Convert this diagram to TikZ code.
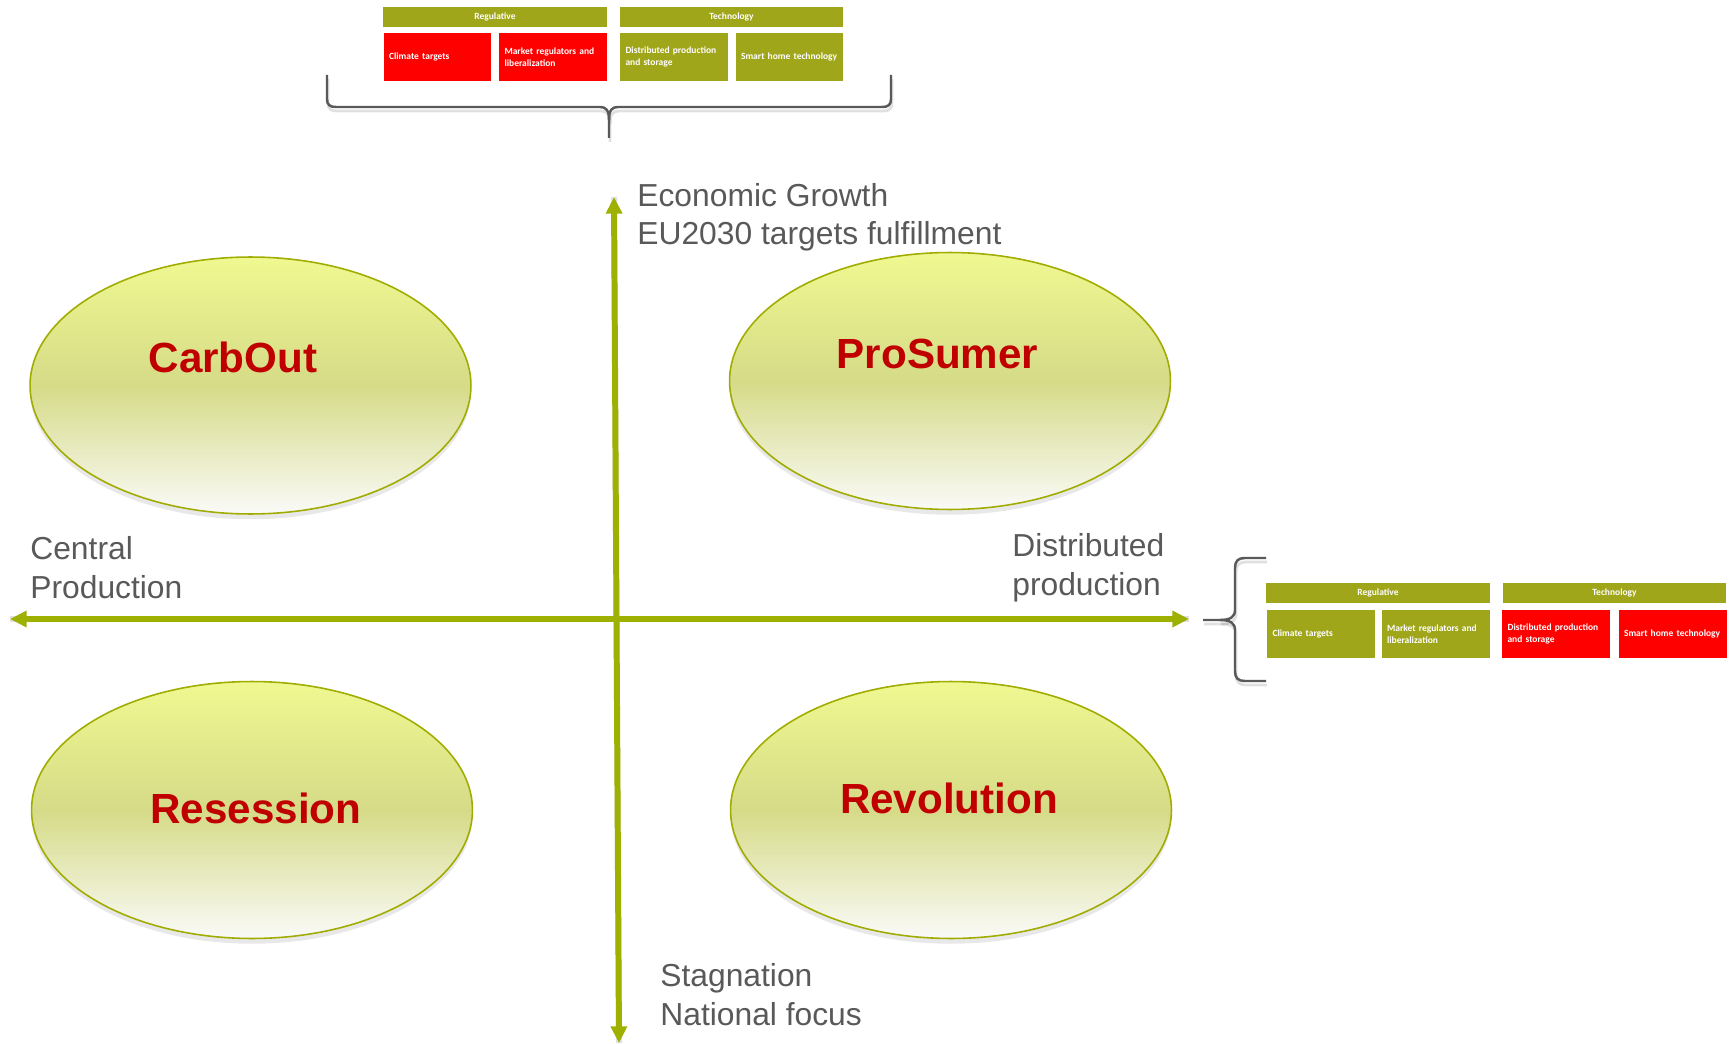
\documentclass[tikz,border=0pt]{standalone}
\usepackage{fontspec}
\setmainfont{Liberation Sans}
\newfontfamily\boxfont{Carlito}
\usetikzlibrary{arrows.meta,shapes.geometric,shadows}

\definecolor{axisgreen}{RGB}{158,176,0}
\definecolor{boxolive}{RGB}{160,166,26}
\definecolor{boxred}{RGB}{255,0,0}
\definecolor{labelgray}{RGB}{89,89,89}
\definecolor{scenred}{RGB}{192,0,0}
\definecolor{ellborder}{RGB}{160,172,0}
\definecolor{elltop}{RGB}{240,248,145}
\definecolor{ellmid}{RGB}{213,219,135}
\definecolor{ellbot}{RGB}{250,250,248}

\newcommand{\pxsc}[0]{0.02cm}

\tikzset{
  axis/.style={line width=3.4pt, color=axisgreen,
    {Triangle[length=9.5pt,width=9pt]}-{Triangle[length=9.5pt,width=9pt]}},
  axisshadow/.style={line width=3.4pt, color=black, opacity=0.12},
  scenario/.style={ellipse, draw=ellborder, line width=0.9pt,
    minimum width=8.82cm, minimum height=5.14cm,
    top color=elltop, bottom color=ellbot, middle color=ellmid,
    drop shadow={shadow xshift=0pt, shadow yshift=-3pt, opacity=0.18}},
  scenlabel/.style={text=scenred, inner sep=0pt,
    font=\fontsize{24}{29}\selectfont\bfseries},
  axislabel/.style={text=labelgray, align=left, anchor=base west, inner sep=0pt,
    font=\fontsize{18.1}{22}\selectfont},
  header/.style={fill=boxolive, minimum width=4.48cm, minimum height=0.4cm,
    inner sep=0pt, text=white, font=\boxfont\bfseries\fontsize{5.4}{6.5}\selectfont},
  cell/.style={minimum width=2.16cm, minimum height=0.95cm, inner xsep=3pt,
    inner ysep=0pt, text width=55.2pt, align=left, text=white,
    font=\boxfont\bfseries\fontsize{5.4}{6.5}\selectfont},
  cellred/.style={cell, fill=boxred},
  cellolive/.style={cell, fill=boxolive},
  bracelinie/.style={draw=labelgray, line width=1.4pt},
  braceshadow/.style={draw=black, line width=1.6pt, opacity=0.12}
}

\begin{document}
\begin{tikzpicture}[x=\pxsc, y=-\pxsc]

\useasboundingbox (0,0) rectangle (1731,1044);

% scenarios
\node[scenario] (carbout) at (250.5,385.5) {};
\node[scenario] (prosumer) at (950,381) {};
\node[scenario] (resession) at (252,810) {};
\node[scenario] (revolution) at (951,810) {};

\node[scenlabel] (carboutlabel) at (233,357.5) {CarbOut};
\node[scenlabel] (prosumerlabel) at (937.5,354) {ProSumer};
\node[scenlabel] (resessionlabel) at (256,808) {Resession};
\node[scenlabel] (revolutionlabel) at (949,798) {Revolution};

% axes
\coordinate (west) at (10,619);
\coordinate (east) at (1189,619);
\coordinate (north) at (614,197);
\coordinate (south) at (619,1043);

\begin{scope}[shift={(2,4)}]
\draw[axisshadow] (west) -- (east);
\draw[axisshadow] (north) -- (south);
\end{scope}
\draw[axis] (west) -- (east);
\draw[axis] (north) -- (south);

\node[axislabel] (growth) at (637,245) {Economic Growth\\EU2030 targets fulfillment};
\node[axislabel] (central) at (30,598) {Central\\Production};
\node[axislabel] (distributed) at (1012,595) {Distributed\\production};
\node[axislabel] (stagnation) at (660,1025) {Stagnation\\National focus};

% top panel
\node[header] (topreg) at (495,17) {Regulative};
\node[header] (toptech) at (731.5,17) {Technology};
\node[cellred] (topclimate) at (437.5,57) {Climate targets};
\node[cellred] (topmarket) at (553,57) {Market regulators and\\liberalization};
\node[cellolive] (topdist) at (674,57) {Distributed production\\and storage};
\node[cellolive] (topsmart) at (789.5,57) {Smart home technology};

% right panel
\node[header] (rightreg) at (1378,592.5) {Regulative};
\node[header] (righttech) at (1614.5,592.5) {Technology};
\node[cellolive] (rightclimate) at (1321,634) {Climate targets};
\node[cellolive] (rightmarket) at (1435.5,634) {Market regulators and\\liberalization};
\node[cellred] (rightdist) at (1556,634) {Distributed production\\and storage};
\node[cellred] (rightsmart) at (1672.5,634) {Smart home technology};

% braces
\begin{scope}[shift={(1,4)}]
\draw[braceshadow] (327,75) -- (327,99) .. controls (327,105) and (330,107) .. (336,107)
  -- (600,107) .. controls (606,107) and (609,110) .. (609,120) -- (609,138);
\draw[braceshadow] (609,120) .. controls (609,110) and (612,107) .. (618,107)
  -- (882,107) .. controls (888,107) and (891,105) .. (891,99) -- (891,75);
\draw[braceshadow] (1266,558) -- (1245,558) .. controls (1238,558) and (1235,561) .. (1235,568)
  -- (1235,610) .. controls (1235,617) and (1230,620) .. (1220,620) -- (1203,620);
\draw[braceshadow] (1220,620) .. controls (1230,620) and (1235,623) .. (1235,630)
  -- (1235,671) .. controls (1235,678) and (1238,681) .. (1245,681) -- (1266,681);
\end{scope}

\draw[bracelinie] (327,75) -- (327,99) .. controls (327,105) and (330,107) .. (336,107)
  -- (600,107) .. controls (606,107) and (609,110) .. (609,120) -- (609,138);
\draw[bracelinie] (609,120) .. controls (609,110) and (612,107) .. (618,107)
  -- (882,107) .. controls (888,107) and (891,105) .. (891,99) -- (891,75);

\draw[bracelinie] (1266,558) -- (1245,558) .. controls (1238,558) and (1235,561) .. (1235,568)
  -- (1235,610) .. controls (1235,617) and (1230,620) .. (1220,620) -- (1203,620);
\draw[bracelinie] (1220,620) .. controls (1230,620) and (1235,623) .. (1235,630)
  -- (1235,671) .. controls (1235,678) and (1238,681) .. (1245,681) -- (1266,681);

\end{tikzpicture}
\end{document}
